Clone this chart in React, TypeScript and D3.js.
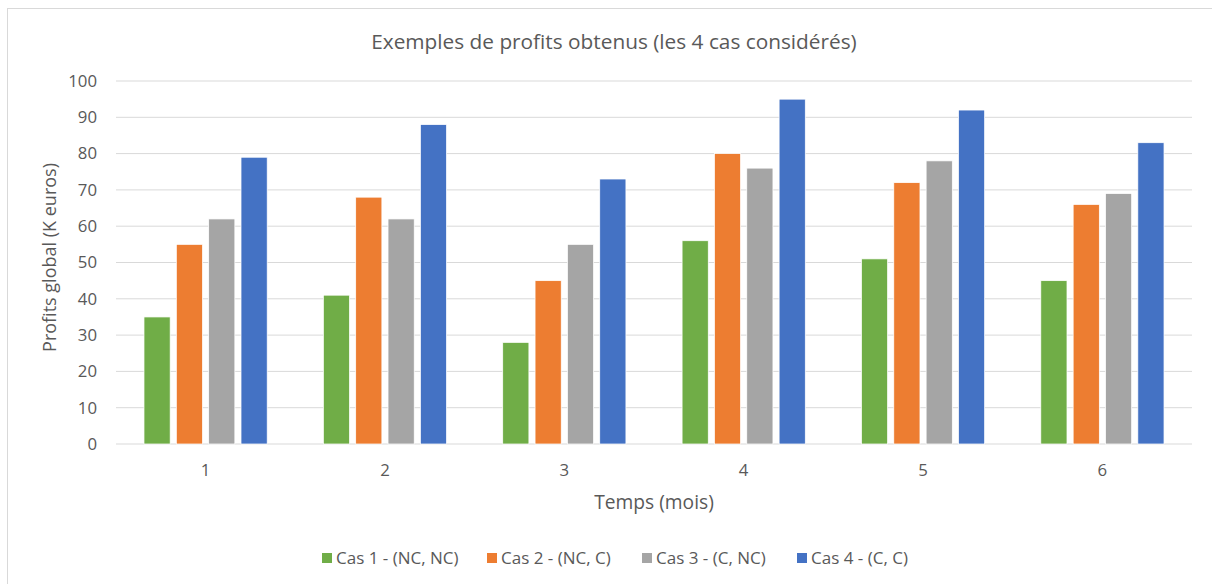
import React from 'react';
import * as d3 from 'd3';

const months = ['1', '2', '3', '4', '5', '6'];
const seriesNames = ['Cas 1 - (NC, NC)', 'Cas 2 - (NC, C)', 'Cas 3 - (C, NC)', 'Cas 4 - (C, C)'];
const seriesColors = ['#70ad47', '#ed7d31', '#a5a5a5', '#4472c4'];
const cas1 = [35, 41, 28, 56, 51, 45];
const cas2 = [55, 68, 45, 80, 72, 66];
const cas3 = [62, 62, 55, 76, 78, 69];
const cas4 = [79, 88, 73, 95, 92, 83];
const yTicks = [0, 10, 20, 30, 40, 50, 60, 70, 80, 90, 100];

const W = 1212;
const H = 584;
const font = '"Open Sans", sans-serif';
const textColor = '#595959';

export default function App() {
  const series = [cas1, cas2, cas3, cas4];
  const left = 116, right = 1192, top = 81, bottom = 444;

  const x = d3.scaleBand().domain(months).range([left, right]).paddingInner(0.313).paddingOuter(0.156);
  const xInner = d3.scaleBand().domain(d3.range(4).map(String)).range([0, x.bandwidth()]).paddingInner(0.19);
  const y = d3.scaleLinear().domain([0, 100]).range([bottom, top]);

  // legend item positions (square left edge)
  const legendX = [322, 487, 642, 797];

  return (
    <svg width={W} height={H} style={{position: 'fixed', left: 0, top: 0, background: '#fff'}} fontFamily={font}>
      <rect x={7.5} y={8.5} width={W + 20} height={H + 20} fill="#fff" stroke="#d9d9d9" strokeWidth={1} />
      <text x={614} y={42} dy="0.35em" textAnchor="middle" fontSize={20.8} fill={textColor}>
        Exemples de profits obtenus (les 4 cas considérés)
      </text>

      {yTicks.map(t => (
        <g key={t}>
          <line x1={left} x2={right} y1={y(t)} y2={y(t)} stroke="#d9d9d9" strokeWidth={1} />
          <text x={97} y={y(t)} dy="0.35em" textAnchor="end" fontSize={16.8} fill={textColor}>{t}</text>
        </g>
      ))}

      {months.map((m, i) => (
        <g key={m} transform={`translate(${x(m)},0)`}>
          {series.map((s, j) => (
            <rect key={j} x={xInner(String(j))} y={y(s[i])} width={xInner.bandwidth()}
              height={bottom - y(s[i])} fill={seriesColors[j]} stroke="#fff" strokeWidth={0.75} />
          ))}
          <text x={x.bandwidth() / 2} y={470} dy="0.35em" textAnchor="middle" fontSize={16.8} fill={textColor}>{m}</text>
        </g>
      ))}

      <text x={(left + right) / 2} y={502} dy="0.35em" textAnchor="middle" fontSize={19.2} fill={textColor}>Temps (mois)</text>
      <text transform={`translate(50,${(top + bottom) / 2 - 5}) rotate(-90)`} dy="0.35em" textAnchor="middle" fontSize={18} fill={textColor}>
        Profits global (K euros)
      </text>

      {seriesNames.map((n, j) => (
        <g key={n} transform={`translate(${legendX[j]},558)`}>
          <rect x={0} y={-5} width={10} height={10} fill={seriesColors[j]} />
          <text x={14} y={0} dy="0.35em" fontSize={17} fill={textColor}>{n}</text>
        </g>
      ))}
    </svg>
  );
}
